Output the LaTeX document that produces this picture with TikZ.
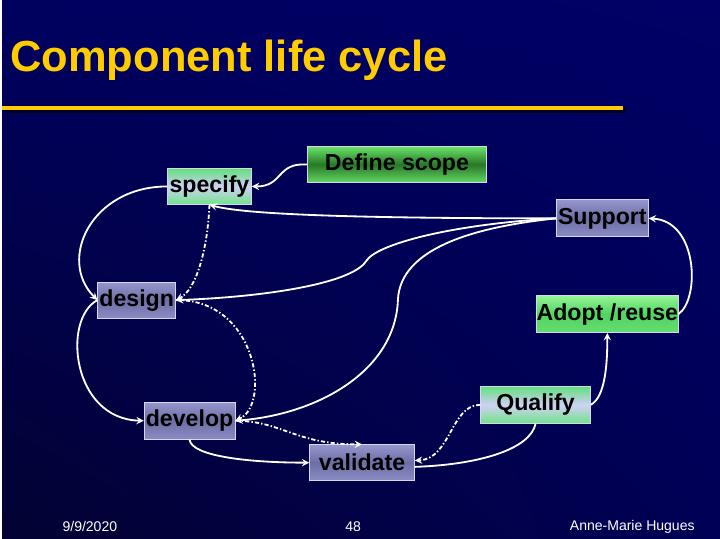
\documentclass[tikz,border=0pt]{standalone}
\usepackage{fontspec}
\setmainfont{Liberation Sans}
\usepackage{tikz}
\usetikzlibrary{calc}
\usetikzlibrary{shadings}
\definecolor{slidetop}{RGB}{0,0,102}
\definecolor{slidebot}{RGB}{0,0,60}
\definecolor{titleyellow}{RGB}{255,204,0}
\definecolor{boxedge}{RGB}{215,215,235}
\tikzset{
    life cycle/.style={
            x=0.025cm,y=-0.025cm,
            phase/.style={draw=boxedge, line width=0.6pt, inner sep=0pt, text=black,
                    font=\fontsize{16.5}{18}\selectfont\bfseries},
            paleleaf/.style={top color={rgb,255:red,96;green,224;blue,124},
                    bottom color={rgb,255:red,112;green,228;blue,136},
                    middle color={rgb,255:red,208;green,208;blue,246}},
            darkleaf/.style={top color={rgb,255:red,104;green,228;blue,104},
                    bottom color={rgb,255:red,100;green,216;blue,100},
                    middle color={rgb,255:red,40;green,120;blue,40}},
            leaf/.style={top color={rgb,255:red,150;green,244;blue,150},
                    bottom color={rgb,255:red,104;green,220;blue,112},
                    middle color={rgb,255:red,80;green,212;blue,96}},
            lilac/.style={top color={rgb,255:red,150;green,150;blue,206},
                    bottom color={rgb,255:red,140;green,140;blue,196},
                    middle color={rgb,255:red,110;green,110;blue,166}},
            footer/.style={text=white, font=\fontsize{10}{12}\selectfont},
            link/.style={white, line width=1.3pt},
            arrow/.style={-stealth, white, line width=1.3pt},
            backflow/.style={-stealth, white, line width=1.3pt,
                    dash pattern=on 3pt off 1.5pt on 1pt off 1.5pt}
        }
    }

\begin{document}
\begin{tikzpicture}[life cycle]
        \shade [upper left={rgb,255:red,0;green,0;blue,96}, upper right=slidetop,
            lower left={rgb,255:red,2;green,2;blue,50}, lower right={rgb,255:red,0;green,0;blue,86}]
            (0,0) rectangle (720,540);
        \node (T) [anchor=base west, inner sep=0pt, text=titleyellow,
            font=\fontsize{31}{36}\selectfont\bfseries] at (8,72) {Component life cycle};
        \draw [black!50!slidebot, line width=3pt] (3,111) -- (626,111);
        \draw [titleyellow, line width=3pt] (0,108) -- (623,108);
        \node (Sp) [phase, paleleaf, minimum width=2.1cm, minimum height=0.9cm] at (208,187) {specify};
        \node (DS) [phase, darkleaf, minimum width=4.5cm, minimum height=0.9cm] at (396,165) {Define scope};
        \node (Su) [phase, lilac, minimum width=2.3cm, minimum height=0.925cm] at (602,219) {Support};
        \node (De) [phase, lilac, minimum width=1.95cm, minimum height=0.9cm] at (135,301) {design};
        \node (AR) [phase, leaf, minimum width=3.4cm, minimum height=0.925cm] at (607,315) {Adopt /reuse};
        \node (Qu) [phase, paleleaf, minimum width=2.75cm, minimum height=0.925cm] at (535,406) {Qualify};
        \node (Dv) [phase, lilac, minimum width=2.275cm, minimum height=0.925cm] at (188,422) {develop};
        \node (Va) [phase, lilac, minimum width=2.625cm, minimum height=0.9cm] at (361,464) {validate};
        \draw [arrow] (DS.west) .. controls (275,163) and (282,187) .. (Sp.east);
        \draw [arrow] (Sp.west) .. controls (90,187) and (55,260) .. (De.west);
        \draw [arrow] (De.west) .. controls (60,320) and (70,420) .. (Dv.west);
        \draw [arrow] (Su.west) .. controls (330,219) and (240,214) .. (Sp.south);
        \draw [backflow] (Sp.south) .. controls (206,250) and (195,290) .. (De.east);
        \draw [arrow] (Su.west) .. controls (450,225) and (375,245) .. (365,262)
            .. controls (350,285) and (260,298) .. (De.east);
        \draw [arrow] (Su.west) .. controls (470,228) and (400,250) .. (397,300)
            .. controls (395,370) and (320,415) .. (Dv.east);
        \draw [backflow] (De.east) .. controls (255,300) and (270,405) .. (Dv.east);
        \draw [backflow] (Dv.east) .. controls (280,422) and (295,446) .. (Va.north);
        \draw [arrow] (Dv.south) .. controls (190,458) and (250,464) .. (Va.west);
        \draw [backflow] (Qu.west) .. controls (450,406) and (450,460) .. ([yshift=1.5pt]Va.east);
        \draw [link] ([yshift=-3pt]Va.east) .. controls (480,466) and (530,450) .. (Qu.south);
        \draw [arrow] (Qu.east) .. controls (605,398) and (607,365) .. (AR.south);
        \draw [arrow] (AR.east) .. controls (700,300) and (698,222) .. (Su.east);
        \node (Date) [footer] at (88,528) {9/9/2020};
        \node (Page) [footer] at (352,528) {48};
        \node (Author) [footer] at (632,528) {Anne-Marie Hugues};
    \end{tikzpicture}
\end{document}
